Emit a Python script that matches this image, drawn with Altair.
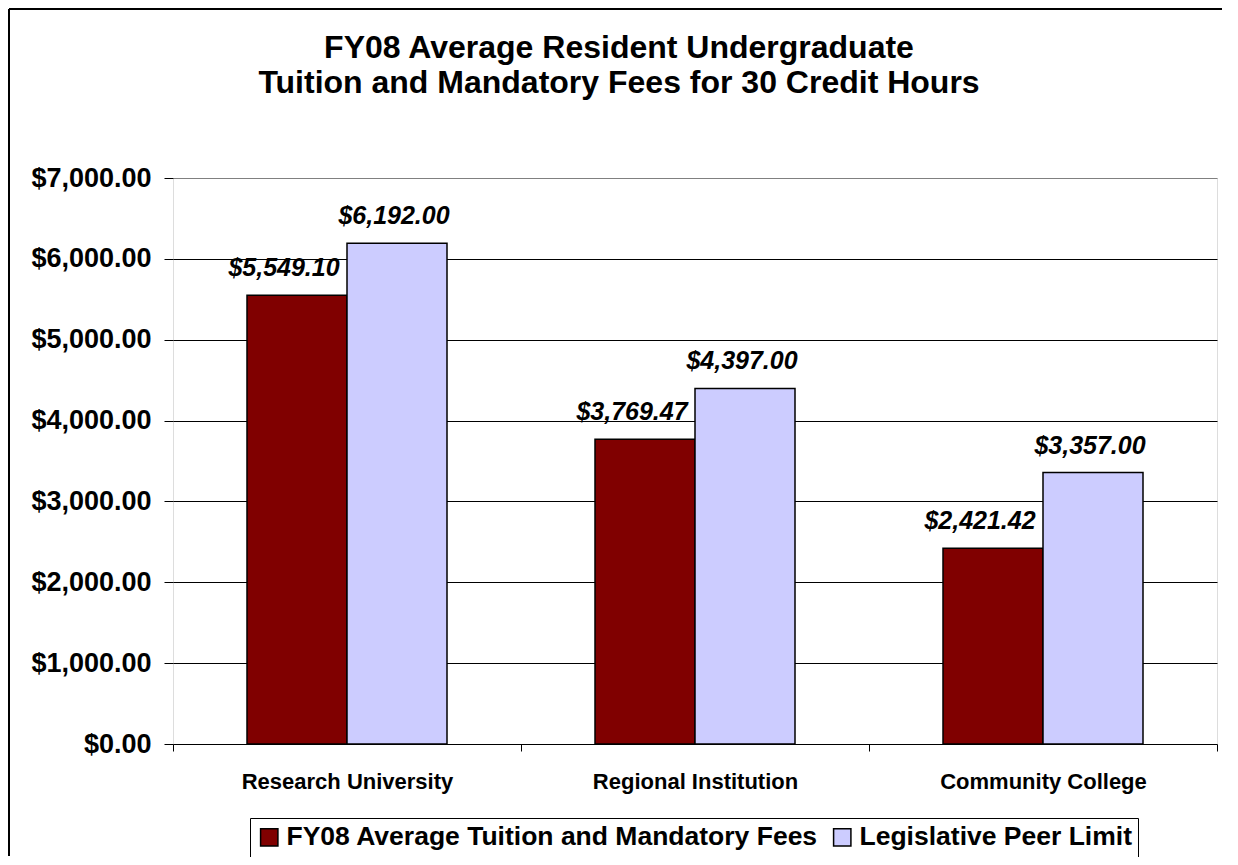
import altair as alt
import pandas as pd

categories = ["Research University", "Regional Institution", "Community College"]
series = ["FY08 Average Tuition and Mandatory Fees", "Legislative Peer Limit"]
fy08_values = [5549.10, 3769.47, 2421.42]
peer_values = [6192.00, 4397.00, 3357.00]
y_ticks = [0, 1000, 2000, 3000, 4000, 5000, 6000, 7000]
title_lines = ["FY08 Average Resident Undergraduate", "Tuition and Mandatory Fees for 30 Credit Hours"]

rows = []
for c, a, b in zip(categories, fy08_values, peer_values):
    rows.append({"category": c, "series": series[0], "value": a})
    rows.append({"category": c, "series": series[1], "value": b})
df = pd.DataFrame(rows)

FONT = "Liberation Sans"
W, H = 1044, 566

x_enc = alt.X("category:N", sort=categories, title=None,
              scale=alt.Scale(paddingInner=0, paddingOuter=0),
              axis=alt.Axis(labelAngle=0, labelFontSize=22, labelFontWeight="bold",
                            labelFont=FONT, labelColor="black", labelPadding=20,
                            labelLimit=400,
                            tickBand="extent", tickSize=7, tickColor="black",
                            domain=False, grid=False))
xo_enc = alt.XOffset("series:N", sort=series,
                     scale=alt.Scale(domain=series, paddingInner=0, paddingOuter=0.74))
y_enc = alt.Y("value:Q", title=None,
              scale=alt.Scale(domain=[0, 7000], nice=False),
              axis=alt.Axis(values=y_ticks, format="$,.2f", labelFontSize=27,
                            labelFontWeight="bold", labelFont=FONT, labelColor="black",
                            labelPadding=13, tickSize=9, tickColor="black",
                            domain=False, grid=True,
                            gridColor=alt.condition(alt.datum.value == 7000,
                                                    alt.value("#808080"), alt.value("black")),
                            gridWidth=1))

base = alt.Chart(df)

bars = base.mark_bar(stroke="black", strokeWidth=1.5).encode(
    x=x_enc, xOffset=xo_enc, y=y_enc,
    color=alt.Color("series:N", sort=series, title=None,
                    scale=alt.Scale(domain=series, range=["#800000", "#CCCCFF"]),
                    legend=alt.Legend(orient="none", legendX=77, legendY=640,
                                      direction="horizontal", symbolType="square",
                                      symbolSize=300, symbolStrokeColor="black",
                                      symbolStrokeWidth=1.5, labelFontSize=26.5,
                                      labelFontWeight="bold", labelFont=FONT,
                                      labelColor="black", labelOffset=4,
                                      columnPadding=10, padding=6,
                                      strokeColor="black", fillColor="white",
                                      labelLimit=800)),
)

label_fy = base.transform_filter(alt.datum.series == series[0]).mark_text(
    font=FONT, fontSize=25, fontWeight="bold", fontStyle="italic",
    baseline="alphabetic", dy=-19, dx=-13, color="black").encode(
    x=alt.X("category:N", sort=categories), xOffset=xo_enc,
    y=alt.Y("value:Q"), text=alt.Text("value:Q", format="$,.2f"))

label_peer = base.transform_filter(alt.datum.series == series[1]).mark_text(
    font=FONT, fontSize=25, fontWeight="bold", fontStyle="italic",
    baseline="alphabetic", dy=-19, dx=-3, color="black").encode(
    x=alt.X("category:N", sort=categories), xOffset=xo_enc,
    y=alt.Y("value:Q"), text=alt.Text("value:Q", format="$,.2f"))

frame_src = alt.Chart(pd.DataFrame({"k": [0]}))
frame_top = frame_src.mark_rule(color="black", strokeWidth=2).encode(
    x=alt.value(-164), x2=alt.value(W + 5), y=alt.value(-169))
frame_left = frame_src.mark_rule(color="black", strokeWidth=2).encode(
    x=alt.value(-164), y=alt.value(-169), y2=alt.value(H + 112))

chart = alt.layer(frame_top, frame_left, bars, label_fy, label_peer).properties(
    width=W, height=H,
    padding={"left": 165, "top": 170, "right": 13, "bottom": 113},
    autosize=alt.AutoSizeParams(type="none"),
    title=alt.TitleParams(title_lines, anchor="middle", fontSize=32, font=FONT,
                          fontWeight="bold", color="black", lineHeight=35,
                          dx=-76, offset=0, dy=92),
).configure_view(
    fill="#FFFFCC", stroke="#808080", strokeWidth=2
).configure(background="white")

chart.save("out.html", embed_options={"renderer": "svg", "actions": False})
